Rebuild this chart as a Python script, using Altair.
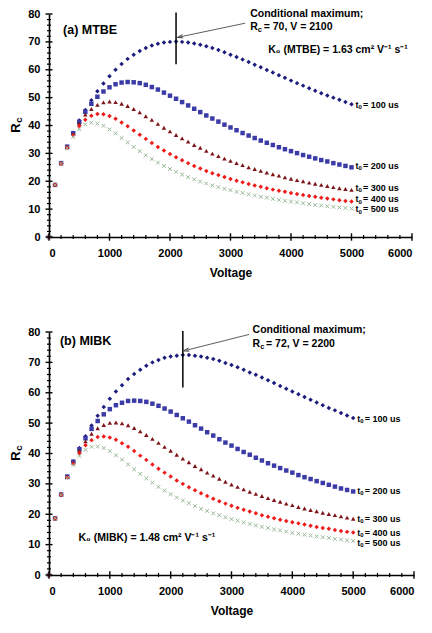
import altair as alt
import pandas as pd

FONT = "Liberation Sans"

volts = [0, 100, 200, 300, 400, 500, 600, 700, 800, 900, 1000, 1100, 1200, 1300, 1400,
         1500, 1600, 1700, 1800, 1900, 2000, 2100, 2200, 2300, 2400, 2500, 2600, 2700,
         2800, 2900, 3000, 3100, 3200, 3300, 3400, 3500, 3600, 3700, 3800, 3900, 4000,
         4100, 4200, 4300, 4400, 4500, 4600, 4700, 4800, 4900, 5000]

series_names = ["100", "200", "300", "400", "500"]

# (a) MTBE
mtbe_100 = [0, 18.7, 26.5, 32.4, 37.4, 41.8, 45.6, 49.1, 52.3, 55.1, 57.7, 60.0, 62.1, 63.9, 65.4,
            66.7, 67.8, 68.7, 69.3, 69.8, 70.0, 70.1, 70.0, 69.8, 69.4, 69.0, 68.4, 67.8, 67.1,
            66.3, 65.4, 64.6, 63.7, 62.8, 61.8, 60.9, 59.9, 59.0, 58.0, 57.1, 56.1, 55.2, 54.3,
            53.4, 52.5, 51.6, 50.8, 50.0, 49.2, 48.4, 47.6]
mtbe_200 = [0, 18.7, 26.5, 32.4, 37.2, 41.3, 44.9, 47.8, 50.3, 52.2, 53.7, 54.8, 55.4, 55.6, 55.5,
            55.2, 54.6, 53.8, 52.9, 51.8, 50.7, 49.6, 48.4, 47.2, 46.0, 44.8, 43.6, 42.5, 41.4,
            40.3, 39.3, 38.3, 37.3, 36.4, 35.5, 34.6, 33.8, 33.0, 32.2, 31.5, 30.8, 30.1, 29.4,
            28.8, 28.2, 27.6, 27.1, 26.5, 26.0, 25.5, 25.0]
mtbe_300 = [0, 18.7, 26.4, 32.2, 36.9, 40.7, 43.9, 45.9, 47.4, 48.3, 48.6, 48.4, 47.8, 47.0, 45.9,
            44.7, 43.3, 42.0, 40.6, 39.2, 37.9, 36.6, 35.4, 34.2, 33.0, 32.0, 30.9, 29.9, 29.0,
            28.1, 27.3, 26.5, 25.8, 25.0, 24.4, 23.7, 23.1, 22.5, 22.0, 21.4, 20.9, 20.4, 20.0,
            19.5, 19.1, 18.7, 18.3, 17.9, 17.5, 17.2, 16.9]
mtbe_400 = [0, 18.7, 26.4, 32.1, 36.5, 39.8, 42.1, 43.5, 44.1, 44.0, 43.4, 42.4, 41.1, 39.7, 38.2,
            36.7, 35.2, 33.7, 32.3, 31.0, 29.8, 28.6, 27.5, 26.5, 25.5, 24.6, 23.7, 22.9, 22.2,
            21.5, 20.8, 20.2, 19.6, 19.0, 18.5, 18.0, 17.5, 17.0, 16.6, 16.2, 15.8, 15.4, 15.1,
            14.7, 14.4, 14.1, 13.8, 13.5, 13.2, 12.9, 12.7]
mtbe_500 = [0, 18.7, 26.4, 31.9, 35.9, 38.7, 40.4, 41.0, 40.7, 39.9, 38.6, 37.2, 35.5, 33.9, 32.3,
            30.8, 29.3, 28.0, 26.7, 25.5, 24.4, 23.4, 22.4, 21.5, 20.7, 19.9, 19.2, 18.5, 17.9,
            17.3, 16.8, 16.2, 15.8, 15.3, 14.9, 14.4, 14.1, 13.7, 13.3, 13.0, 12.7, 12.4, 12.1,
            11.8, 11.5, 11.3, 11.0, 10.8, 10.6, 10.4, 10.2]

# (b) MIBK
mibk_100 = [0, 18.7, 26.5, 32.4, 37.4, 41.8, 45.7, 49.2, 52.4, 55.3, 58.0, 60.4, 62.5, 64.5, 66.2,
            67.6, 68.9, 70.0, 70.8, 71.5, 71.9, 72.2, 72.4, 72.4, 72.2, 71.9, 71.5, 71.1, 70.5,
            69.8, 69.1, 68.4, 67.6, 66.7, 65.9, 65.0, 64.1, 63.2, 62.2, 61.3, 60.4, 59.5, 58.6,
            57.7, 56.8, 55.9, 55.0, 54.2, 53.3, 52.5, 51.7]
mibk_200 = [0, 18.7, 26.5, 32.4, 37.3, 41.4, 45.0, 48.1, 50.7, 52.9, 54.6, 55.9, 56.7, 57.3, 57.4,
            57.3, 57.0, 56.4, 55.7, 54.8, 53.8, 52.7, 51.6, 50.5, 49.3, 48.2, 47.0, 45.9, 44.7,
            43.6, 42.6, 41.5, 40.5, 39.6, 38.6, 37.7, 36.8, 36.0, 35.2, 34.4, 33.7, 32.9, 32.2,
            31.6, 30.9, 30.3, 29.7, 29.1, 28.5, 28.0, 27.5]
mibk_300 = [0, 18.7, 26.5, 32.3, 37.0, 40.9, 44.0, 46.5, 48.3, 49.4, 50.1, 50.2, 49.9, 49.3, 48.4,
            47.3, 46.1, 44.8, 43.5, 42.2, 40.9, 39.6, 38.3, 37.1, 35.9, 34.8, 33.7, 32.7, 31.7,
            30.7, 29.8, 29.0, 28.2, 27.4, 26.7, 26.0, 25.3, 24.7, 24.1, 23.5, 23.0, 22.4, 21.9,
            21.4, 21.0, 20.5, 20.1, 19.7, 19.3, 18.9, 18.5]
mibk_400 = [0, 18.7, 26.4, 32.1, 36.6, 40.1, 42.7, 44.4, 45.4, 45.6, 45.3, 44.5, 43.4, 42.2, 40.8,
            39.3, 37.9, 36.4, 35.0, 33.7, 32.4, 31.1, 30.0, 28.9, 27.9, 26.9, 26.0, 25.1, 24.3,
            23.5, 22.8, 22.1, 21.5, 20.9, 20.3, 19.7, 19.2, 18.7, 18.2, 17.8, 17.4, 17.0, 16.6,
            16.2, 15.8, 15.5, 15.2, 14.8, 14.5, 14.2, 14.0]
mibk_500 = [0, 18.7, 26.4, 32.0, 36.2, 39.2, 41.2, 42.2, 42.3, 41.8, 40.8, 39.4, 38.0, 36.4, 34.8,
            33.3, 31.8, 30.4, 29.0, 27.8, 26.6, 25.5, 24.5, 23.6, 22.7, 21.8, 21.1, 20.3, 19.7,
            19.0, 18.4, 17.9, 17.3, 16.8, 16.3, 15.9, 15.5, 15.0, 14.7, 14.3, 13.9, 13.6, 13.3,
            13.0, 12.7, 12.4, 12.2, 11.9, 11.7, 11.4, 11.2]

x_major = [0, 1000, 2000, 3000, 4000, 5000, 6000]
x_minor = [200, 400, 600, 800, 1200, 1400, 1600, 1800, 2200, 2400, 2600, 2800, 3200, 3400,
           3600, 3800, 4200, 4400, 4600, 4800, 5200, 5400, 5600, 5800]
y_major = [0, 10, 20, 30, 40, 50, 60, 70, 80]
y_minor = [2, 4, 6, 8, 12, 14, 16, 18, 22, 24, 26, 28, 32, 34, 36, 38, 42, 44, 46, 48,
           52, 54, 56, 58, 62, 64, 66, 68, 72, 74, 76, 78]

label_texts = ["= 100 us", "= 200 us", "= 300 us", "= 400 us", "= 500 us"]

colors = ["#1c1c7c", "#3b3ba8", "#7d1418", "#ee1b1b", "#97b897"]
shapes = ["diamond", "square", "triangle-up", "diamond", "M-1,-1L1,1M-1,1L1,-1"]
ARROW = "M1,-0.6L-1,0L1,0.6"


def make_panel(vals, W, H, ann):
    xs = alt.Scale(domain=[0, 6000], nice=False, zero=False)
    ys = alt.Scale(domain=[0, 80], nice=False, zero=False)
    rows = []
    for name, series in zip(series_names, vals):
        for v, r in zip(volts, series):
            rows.append({"V": v, "Rc": r, "tg": name})
    df = pd.DataFrame(rows)

    xaxis = alt.Axis(values=x_major, ticks=False, tickSize=0, grid=False, format="d",
                     labelFont=FONT, labelFontWeight="bold", labelFontSize=11, labelColor="black",
                     labelPadding=10, domainColor="black", domainWidth=1.6,
                     title="Voltage", titleFont=FONT, titleFontSize=12, titleFontWeight="bold",
                     titleColor="black", titlePadding=9)
    yaxis = alt.Axis(values=y_major, ticks=False, tickSize=0, grid=False, format="d",
                     labelFont=FONT, labelFontWeight="bold", labelFontSize=11, labelColor="black",
                     labelPadding=9, domainColor="black", domainWidth=1.6, title=None)

    cscale = alt.Scale(domain=series_names, range=colors)
    sscale = alt.Scale(domain=series_names, range=shapes)

    filled = alt.Chart(df[df.tg != "500"]).mark_point(filled=True, size=20, opacity=1).encode(
        x=alt.X("V:Q", scale=xs, axis=xaxis),
        y=alt.Y("Rc:Q", scale=ys, axis=yaxis),
        color=alt.Color("tg:N", scale=cscale, legend=None),
        shape=alt.Shape("tg:N", scale=sscale, legend=None),
    )
    crosses = alt.Chart(df[df.tg == "500"]).mark_point(
        shape=shapes[4], filled=False, size=14, strokeWidth=1, color=colors[4], opacity=1
    ).encode(
        x=alt.X("V:Q", scale=xs, axis=xaxis),
        y=alt.Y("Rc:Q", scale=ys, axis=yaxis),
    )

    def xticks(vals_, half, sw):
        return alt.Chart(pd.DataFrame({"V": vals_})).mark_rule(color="black", strokeWidth=sw).encode(
            x=alt.X("V:Q", scale=xs, axis=xaxis), y=alt.value(H - half), y2=alt.value(H + half))

    def yticks(vals_, half, sw):
        return alt.Chart(pd.DataFrame({"Rc": vals_})).mark_rule(color="black", strokeWidth=sw).encode(
            y=alt.Y("Rc:Q", scale=ys, axis=yaxis), x=alt.value(-half), x2=alt.value(half))

    def txt(V, val, s, size, dx=0, dy=0, align="left", angle=None, xpix=None, weight="bold"):
        d = pd.DataFrame({"V": [V], "Rc": [val], "s": [s]})
        kw = dict(align=align, baseline="middle", font=FONT, fontSize=size, fontWeight=weight,
                  color="black", dx=dx, dy=dy)
        if angle is not None:
            kw["angle"] = angle
        xenc = alt.value(xpix) if xpix is not None else alt.X("V:Q", scale=xs, axis=xaxis)
        return alt.Chart(d).mark_text(**kw).encode(
            x=xenc, y=alt.Y("Rc:Q", scale=ys, axis=yaxis), text="s:N")

    layers = [filled, crosses,
              xticks(x_minor, 2, 1.2), xticks(x_major, 3.7, 1.4),
              yticks(y_minor, 2, 1.2), yticks(y_major, 3.5, 1.4)]

    # y axis title R_c
    layers.append(txt(0, 40, "R", 13, dx=-2.5, angle=270, align="center", xpix=-33))
    layers.append(txt(0, 40, "c", 9.5, dx=5.5, dy=3, angle=270, align="center", xpix=-33))

    # panel title
    t, tv, tval = ann["title"]
    layers.append(txt(tv, tval, t, 12.5))

    # vertical marker
    vx, vy1, vy2 = ann["vline"]
    layers.append(alt.Chart(pd.DataFrame({"V": [vx], "Rc": [vy1], "b": [vy2]})).mark_rule(
        color="black", strokeWidth=1.5).encode(
        x=alt.X("V:Q", scale=xs, axis=xaxis), y=alt.Y("Rc:Q", scale=ys, axis=yaxis), y2="b:Q"))

    # arrow
    ax1, ay1, ax2, ay2, ang = ann["arrow"]
    layers.append(alt.Chart(pd.DataFrame({"V": [ax1], "Rc": [ay1], "x2": [ax2], "y2": [ay2]})).mark_rule(
        color="#333333", strokeWidth=0.8).encode(
        x=alt.X("V:Q", scale=xs, axis=xaxis), y=alt.Y("Rc:Q", scale=ys, axis=yaxis),
        x2="x2:Q", y2="y2:Q"))
    layers.append(alt.Chart(pd.DataFrame({"V": [ax1], "Rc": [ay1]})).mark_point(
        shape=ARROW, filled=False, size=30, strokeWidth=0.9, color="#333333", angle=ang, opacity=1).encode(
        x=alt.X("V:Q", scale=xs, axis=xaxis), y=alt.Y("Rc:Q", scale=ys, axis=yaxis)))

    # conditional maximum text
    cv, cval, rcval, rest = ann["cond"]
    layers.append(txt(cv, cval, "Conditional maximum;", 10.5))
    layers.append(txt(cv, rcval, "R", 10.5))
    layers.append(txt(cv, rcval, "c", 7.5, dx=7.6, dy=3))
    layers.append(txt(cv, rcval, rest, 10.5, dx=13.5))

    # K0 text
    k, kv, kval = ann["k0"]
    layers.append(txt(kv, kval, k, 10.5))

    # series labels
    for lab, lv in zip(label_texts, ann["labels"]):
        layers.append(txt(5000, lv, "t", 9, dx=4))
        layers.append(txt(5000, lv, "0", 6, dx=7.1, dy=2.5))
        layers.append(txt(5000, lv, lab, 9, dx=11.5))

    return alt.layer(*layers).properties(width=W, height=H)


ann_a = {
    "title": ("(a) MTBE", 232, 74.3),
    "vline": (2100, 62.0, 80.5),
    "arrow": (2167, 71.8, 3242, 76.7, 348),
    "cond": (3325, 80.0, 75.5, "= 70, V = 2100"),
    "k0": ("K\u2080 (MTBE) = 1.63 cm\u00b2 V\u207b\u00b9 s\u207b\u00b9", 3623, 67.1),
    "labels": [47.5, 25.5, 17.75, 13.6, 10.0],
}
ann_b = {
    "title": ("(b) MIBK", 180, 77.2),
    "vline": (2200, 61.7, 80.3),
    "arrow": (2256, 74.0, 3291, 79.2, 346),
    "cond": (3346, 80.8, 76.0, "= 72, V = 2200"),
    "k0": ("K\u2080 (MIBK) = 1.48 cm\u00b2 V\u207b\u00b9 s\u207b\u00b9", 485, 12.3),
    "labels": [51.4, 27.7, 18.5, 13.9, 10.6],
}

panel_a = make_panel([mtbe_100, mtbe_200, mtbe_300, mtbe_400, mtbe_500], 363, 223, ann_a)
panel_b = make_panel([mibk_100, mibk_200, mibk_300, mibk_400, mibk_500], 365, 243, ann_b)

chart = alt.vconcat(panel_a, panel_b, spacing=95, bounds="flush").configure_view(
    stroke=None).properties(padding={"left": 2, "top": 0, "right": 0, "bottom": 4},
                            background="white")

chart.save("out.html", embed_options={"renderer": "svg", "actions": False})
